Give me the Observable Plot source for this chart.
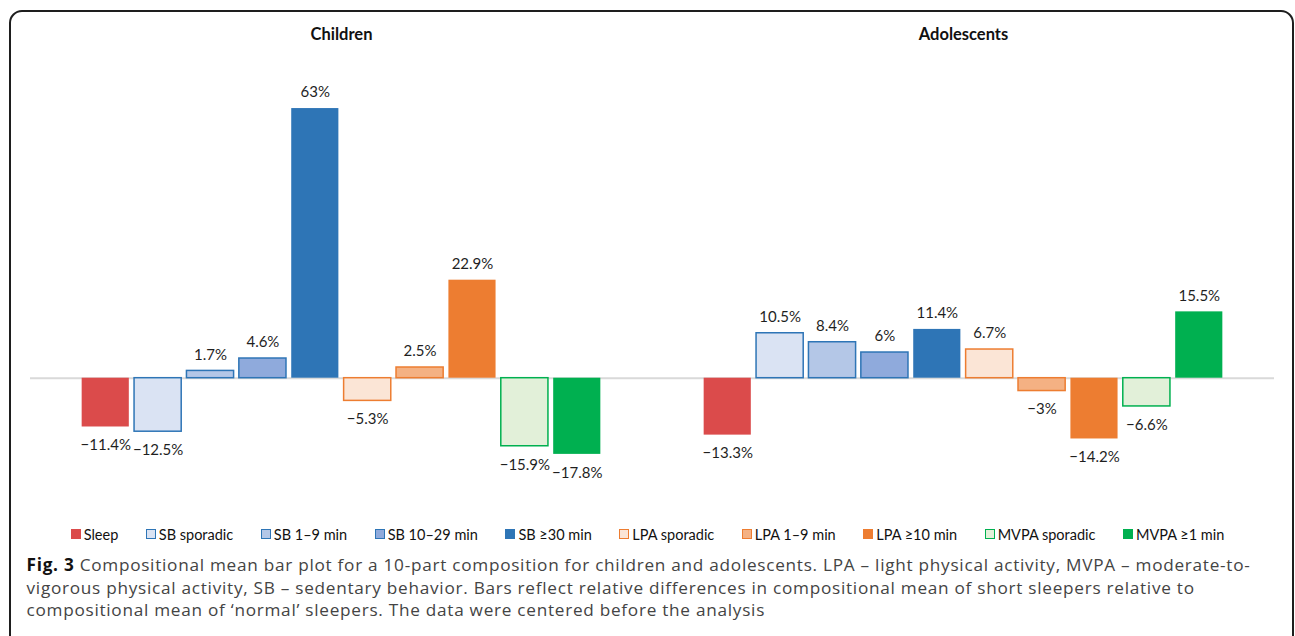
<!DOCTYPE html>
<html>
<head>
<meta charset="utf-8">
<script src="https://cdn.jsdelivr.net/npm/d3@7"></script>
<script src="https://cdn.jsdelivr.net/npm/@observablehq/plot@0.6"></script>
<style>
  html, body { margin: 0; padding: 0; background: #fff; }
  body { width: 1295px; height: 636px; position: relative; overflow: hidden; font-family: Lato, "Open Sans", sans-serif; }
  #frame { position: absolute; left: 9px; top: 10px; width: 1285px; height: 720px; box-sizing: border-box;
           border: 2px solid #1e1e1e; border-radius: 13px; z-index: 3; pointer-events: none; }
  #chart { position: absolute; left: 0; top: 0; }
  #legend { position: absolute; left: 0; top: 524px; width: 1295px; height: 20px; display: flex;
            justify-content: center; align-items: center; gap: 27.5px; font-family: Lato, sans-serif;
            font-size: 14.5px; color: #111; z-index: 2; }
  .item { display: flex; align-items: center; white-space: nowrap; }
  .sw { width: 10px; height: 10px; box-sizing: border-box; margin-right: 3px; }
  #caption { position: absolute; left: 26.5px; top: 554px; font-family: "Open Sans", sans-serif;
             font-size: 17.2px; line-height: 22.6px; color: #444; white-space: nowrap; z-index: 2; }
  #caption b { color: #111; }
</style>
</head>
<body>
<div id="chart"></div>
<div id="legend"></div>
<div id="caption"><span id="line1"><b>Fig. 3</b> Compositional mean bar plot for a 10-part composition for children and adolescents. LPA – light physical activity, MVPA – moderate-to-</span><br>vigorous physical activity, SB – sedentary behavior. Bars reflect relative differences in compositional mean of short sleepers relative to<br>compositional mean of ‘normal’ sleepers. The data were centered before the analysis</div>
<div id="frame"></div>
<script>
// ---- data ----
const groups = ["Children", "Adolescents"];
const categories = ["Sleep", "SB sporadic", "SB 1–9 min", "SB 10–29 min", "SB ≥30 min",
                    "LPA sporadic", "LPA 1–9 min", "LPA ≥10 min", "MVPA sporadic", "MVPA ≥1 min"];
const childrenValues = [-11.4, -12.5, 1.7, 4.6, 63, -5.3, 2.5, 22.9, -15.9, -17.8];
const adolescentValues = [-13.3, 10.5, 8.4, 6, 11.4, 6.7, -3, -14.2, -6.6, 15.5];
const fillColors = ["#db4b4b", "#dae3f3", "#b4c7e7", "#8faadc", "#2e75b6",
                    "#fbe5d6", "#f4b183", "#ed7d31", "#e2f0d9", "#00b050"];
const strokeColors = ["none", "#2e75b6", "#2e75b6", "#2e75b6", "none",
                      "#ed7d31", "#ed7d31", "none", "#00b050", "none"];

// ---- table ----
const rows = [];
groups.forEach((g, gi) => {
  const vals = gi === 0 ? childrenValues : adolescentValues;
  categories.forEach((c, ci) => rows.push({group: g, category: c, value: vals[ci], ci}));
});
const fmt = v => (v < 0 ? "\u2212" : "") + Math.abs(v) + "%";

const plot = Plot.plot({
  width: 1295,
  height: 500,
  marginTop: 99.5,
  marginBottom: 36.7,
  marginLeft: 29.3,
  marginRight: 20.3,
  style: {fontFamily: "Lato, sans-serif", fontSize: "15px", background: "transparent", color: "#262626"},
  fx: {domain: groups, padding: 0, axis: null},
  x: {domain: categories, paddingInner: 0.1, paddingOuter: 0.986, axis: null, round: false},
  y: {domain: [-20, 65], axis: null},
  color: {type: "identity"},
  marks: [
    Plot.ruleY([0], {stroke: "#d9d9d9", strokeWidth: 2}),
    Plot.barY(rows, {fx: "group", x: "category", y: "value",
      fill: d => fillColors[d.ci], stroke: d => strokeColors[d.ci], strokeWidth: 1.5}),
    Plot.text(rows.filter(d => d.value >= 0), {fx: "group", x: "category", y: "value",
      text: d => fmt(d.value), dy: -16, fontSize: 15, fill: "#1f1f1f"}),
    Plot.text(rows.filter(d => d.value < 0), {fx: "group", x: "category", y: "value",
      text: d => fmt(d.value), dy: 18.5, fontSize: 15, fill: "#1f1f1f"}),
    Plot.text(groups, {fx: d => d, text: d => d, frameAnchor: "top", lineAnchor: "middle", dy: -65.2,
      fontWeight: "bold", fontSize: 16.5, fill: "#111"})
  ]
});
document.getElementById("chart").appendChild(plot);

// ---- legend ----
const legend = d3.select("#legend");
categories.forEach((c, i) => {
  const it = legend.append("div").attr("class", "item");
  it.append("div").attr("class", "sw")
    .style("background", fillColors[i])
    .style("border", strokeColors[i] === "none" ? "none" : `1.5px solid ${strokeColors[i]}`);
  it.append("span").text(c);
});

// ---- fit caption line 1 width to reference (≈ 1224px) via letter spacing ----
const cap = document.getElementById("caption");
const l1 = document.getElementById("line1");
const w = l1.getBoundingClientRect().width;
const n = l1.textContent.length;
if (w > 0 && n > 0) {
  cap.style.letterSpacing = ((1224 - w) / n).toFixed(3) + "px";
}
</script>
</body>
</html>
